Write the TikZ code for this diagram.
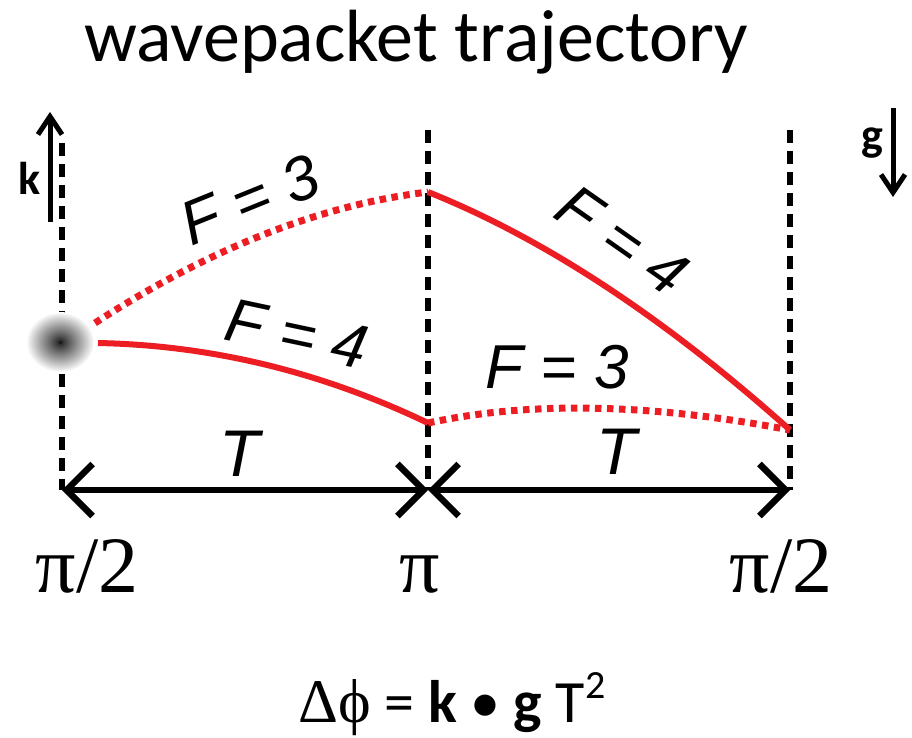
\documentclass[tikz,border=0pt]{standalone}
\usepackage{fontspec}
\setmainfont{Carlito}
\newfontfamily\lsans{Liberation Sans}
\newfontfamily\lserif{Liberation Serif}
\usetikzlibrary{arrows.meta}
\definecolor{fred}{RGB}{236,30,36}
\pgfdeclareradialshading{blobshade}{\pgfpoint{0bp}{0bp}}{color(0bp)=(black!95); color(2bp)=(black!80); color(8bp)=(black!58); color(17bp)=(black!28); color(25bp)=(white); color(50bp)=(white)}
\tikzset{
  vdash/.style={line width=5.5pt, dash pattern=on 13pt off 8pt},
  solidred/.style={draw=fred, line width=6pt},
  dotred/.style={draw=fred, line width=7pt, dash pattern=on 6.5pt off 5.5pt},
  flabel/.style={font=\fontsize{62}{70}\lsans\itshape\selectfont, inner sep=0pt},
  tlabel/.style={font=\fontsize{66}{72}\lsans\itshape\selectfont, inner sep=0pt},
  pilabel/.style={font=\fontsize{80}{90}\lserif\selectfont, inner sep=0pt, anchor=base},
  vecarrow/.style={line width=5pt, -{Straight Barb[length=18pt,width=24pt]}},
  tarrow/.style={line width=6.5pt, {Straight Barb[length=26pt,width=52pt]}-{Straight Barb[length=26pt,width=52pt]}},
  boldlabel/.style={font=\fontsize{46}{50}\bfseries\selectfont, inner sep=0pt},
}
\begin{document}
\begin{tikzpicture}[x=1pt,y=-1pt]
\useasboundingbox (0,0) rectangle (912,738);
% title
\node[font=\fontsize{74}{80}\selectfont, anchor=base, inner sep=0pt] (title) at (416,62) {wavepacket trajectory};
% vertical dashed lines
\coordinate (lt) at (62,143); \coordinate (lb) at (62,490);
\coordinate (mt) at (428,130); \coordinate (mb) at (428,490);
\coordinate (rt) at (790,130); \coordinate (rb) at (790,490);
\draw[vdash] (lt) -- (lb);
\draw[vdash] (mt) -- (mb);
\draw[vdash] (rt) -- (rb);
% k and g arrows
\coordinate (k0) at (50,222); \coordinate (k1) at (50,112);
\draw[vecarrow] (k0) -- (k1);
\node[boldlabel] (klab) at (30,178) {k};
\coordinate (g0) at (893,108); \coordinate (g1) at (893,197);
\draw[vecarrow] (g0) -- (g1);
\node[boldlabel] (glab) at (872,143) {g};
% wavepacket blob
\shade[shading=blobshade] (60,342) ellipse [x radius=34, y radius=30];
% trajectories
\coordinate (a1s) at (95,323); \coordinate (top) at (428,192);
\coordinate (b1s) at (98,343); \coordinate (low) at (428,423);
\coordinate (endp) at (790,430);
\draw[dotred] (a1s) .. controls (209.5,248.5) and (320.5,204.9) .. (top);
\draw[solidred] (b1s) .. controls (211.6,345.3) and (321.6,371.9) .. (low);
\draw[solidred] (top) .. controls (545.1,238.8) and (665.7,318.8) .. (endp);
\draw[dotred] (low) .. controls (529.3,401) and (650,403.3) .. (endp);
% F labels
\node[flabel, rotate=22] (f3a) at (250,200) {F = 3};
\node[flabel, rotate=-12] (f4a) at (297,334) {F = 4};
\node[flabel, rotate=-35] (f4b) at (622,240) {F = 4};
\node[flabel] (f3b) at (557,367) {F = 3};
% T arrows
\draw[tarrow] (lb) -- (mb);
\draw[tarrow] (mb) -- (rb);
\node[tlabel] (t1) at (240,454) {T};
\node[tlabel] (t2) at (617,452) {T};
% pi labels
\node[pilabel] (p1) at (87,592) {π/2};
\node[pilabel] (p2) at (420,592) {π};
\node[pilabel] (p3) at (781,592) {π/2};
% formula
\node[font=\fontsize{60}{66}\selectfont, anchor=base, inner sep=0pt] (formula) at (452,722)
  {{\lserif\fontsize{62}{66}\selectfont Δϕ} = \textbf{k} • \textbf{g} T\raisebox{0.4em}{\fontsize{40}{42}\selectfont 2}};
\end{tikzpicture}
\end{document}
